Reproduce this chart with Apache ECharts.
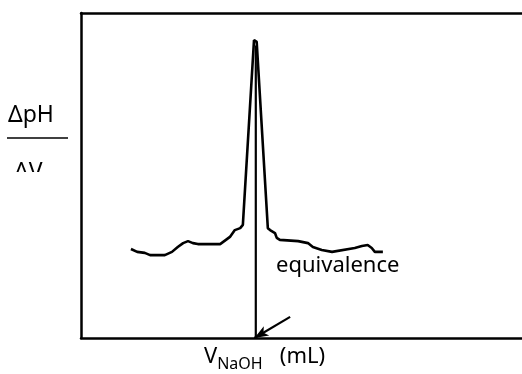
<!DOCTYPE html>
<html>
<head>
<meta charset="utf-8">
<script src="https://cdn.jsdelivr.net/npm/echarts@6/dist/echarts.min.js"></script>
<style>
  html, body { margin: 0; padding: 0; background: #fff; }
  #chart { width: 522px; height: 374px; }
</style>
</head>
<body>
<div id="chart"></div>
<script>
// derivative curve dpH/dV vs volume (arbitrary units, no ticks in the original)
const volume = [11.2, 12.6, 14.3, 15.5, 18.8, 20.4, 21.7, 22.9, 24.0, 25.1, 26.2, 31.2, 32.5, 33.4, 34.5, 35.7, 36.3,
  38.8, 39.4,
  41.9, 42.4, 43.5, 43.9, 44.6, 48.7, 50.9, 52.0, 54.0, 56.3, 61.4, 63.0, 64.3, 65.2, 65.9, 67.7]
const dpHdV = [27.4, 26.5, 26.2, 25.5, 25.5, 26.5, 28.0, 29.2, 29.8, 29.2, 28.9, 28.9, 30.2, 31.1, 33.2, 33.8, 34.8,
  91.7, 91.1,
  33.8, 33.2, 32.3, 30.8, 30.2, 29.8, 29.2, 28.0, 27.1, 26.5, 27.7, 28.3, 28.6, 27.7, 26.5, 26.5]
const equivX = 39.2
const equivTop = 90
const arrowFrom = [46.9, 6.5]
const arrowTo = [38.9, 0]

const chart = echarts.init(document.getElementById('chart'))

const boxLine = { show: true, lineStyle: { color: '#000', width: 2.5 } }
const hidden = {
  axisTick: { show: false },
  axisLabel: { show: false },
  splitLine: { show: false }
}

let option = {
  animation: false,
  grid: {
    left: 81,
    top: 13,
    right: 0,
    bottom: 36
  },
  xAxis: [
    { type: 'value', position: 'bottom', min: 0, max: 98.9, axisLine: boxLine, ...hidden },
    { type: 'value', position: 'top', min: 0, max: 98.9, axisLine: boxLine, ...hidden }
  ],
  yAxis: {
    type: 'value',
    min: 0,
    max: 100,
    axisLine: boxLine,
    ...hidden
  },
  series: [
    {
      type: 'line',
      data: volume.map((v, i) => [v, dpHdV[i]]),
      symbol: 'none',
      lineStyle: { color: '#000', width: 2.6 }
    },
    {
      type: 'line',
      data: [[equivX, 0], [equivX, equivTop]],
      symbol: 'none',
      lineStyle: { color: '#000', width: 2.2 },
      markLine: {
        silent: true,
        symbol: ['none', 'arrow'],
        symbolSize: [8, 14],
        lineStyle: { color: '#000', width: 2.2, type: 'solid' },
        label: { show: false },
        data: [[{ coord: arrowFrom }, { coord: arrowTo }]]
      }
    }
  ],
  graphic: [
    {
      type: 'text',
      left: 8, top: 104,
      style: { text: 'ΔpH', font: '23px "Noto Sans"', fill: '#000' }
    },
    {
      type: 'line',
      shape: { x1: 7, y1: 138, x2: 68, y2: 138 },
      style: { stroke: '#000', lineWidth: 1.5 }
    },
    {
      type: 'text',
      left: 14, top: 161,
      z: 1,
      style: { text: 'ΔV', font: '23px "Noto Sans"', fill: '#000' }
    },
    {
      type: 'rect',
      z: 2,
      shape: { x: 0, y: 172, width: 78, height: 40 },
      style: { fill: '#fff' }
    },
    {
      type: 'text',
      left: 276, top: 255,
      style: { text: 'equivalence', font: '22px "Noto Sans"', fill: '#000' }
    },
    {
      type: 'text',
      left: 204, top: 346,
      style: {
        text: '{a|V}{b|NaOH}{a|   (mL)}',
        rich: {
          a: { font: '22px "Noto Sans"', fill: '#000', verticalAlign: 'bottom' },
          b: { font: '16px "Noto Sans"', fill: '#000', verticalAlign: 'bottom', padding: [0, 0, -4, 0] }
        }
      }
    }
  ]
}
chart.setOption(option, true)
</script>
</body>
</html>
